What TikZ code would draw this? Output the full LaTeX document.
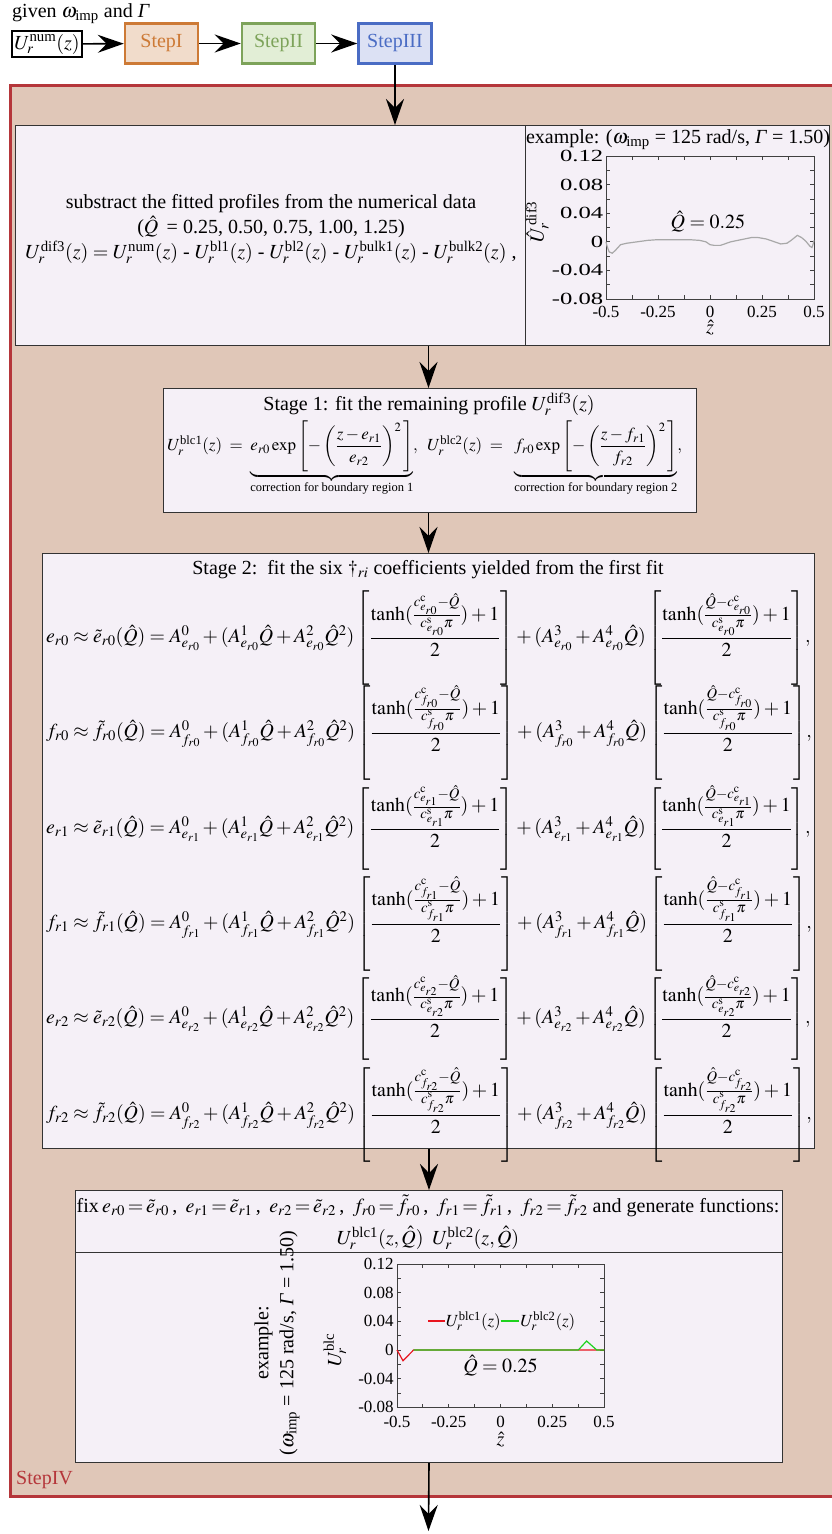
\documentclass[tikz,border=0pt]{standalone}
\usepackage{amsmath}
\usepackage{mathptmx}
\usepackage{fontspec}
\setmainfont{Liberation Serif}
\usetikzlibrary{arrows.meta,calc}
\definecolor{frameIV}{HTML}{E0C7B8}
\definecolor{redIV}{HTML}{B5363A}
\definecolor{boxbg}{HTML}{F5F0F7}
\definecolor{oI}{HTML}{CD7A36}
\definecolor{oIf}{HTML}{F1DCCB}
\definecolor{gII}{HTML}{7DA35A}
\definecolor{gIIf}{HTML}{E2EED6}
\definecolor{bIII}{HTML}{4A6CC4}
\definecolor{bIIIf}{HTML}{DCE1F4}
\definecolor{curvegray}{HTML}{A8A8A8}
\definecolor{axisgray}{HTML}{404040}
\definecolor{legred}{HTML}{E8141E}
\definecolor{leggreen}{HTML}{1ED21E}
\newcommand{\fitrow}[2]{%
 #1_{r#2}\approx\tilde{#1}_{r#2}(\hat{Q}) = A^{0}_{#1_{r#2}} + (A^{1}_{#1_{r#2}}\hat{Q}+A^{2}_{#1_{r#2}}\hat{Q}^{2})
 \left[\vcenter{\hbox{\rule{0pt}{88pt}}}\dfrac{\tanh(\frac{c^{\mathrm{c}}_{#1_{r#2}}-\hat{Q}}{c^{\mathrm{s}}_{#1_{r#2}}\pi})+1}{2}\right]
 + (A^{3}_{#1_{r#2}}+A^{4}_{#1_{r#2}}\hat{Q})
 \left[\vcenter{\hbox{\rule{0pt}{88pt}}}\dfrac{\tanh(\frac{\hat{Q}-c^{\mathrm{c}}_{#1_{r#2}}}{c^{\mathrm{s}}_{#1_{r#2}}\pi})+1}{2}\right]\!,}
\newcommand{\smallfs}{\fontsize{12.5}{14}\selectfont}
\newcommand{\teq}{\mkern2.5mu{=}\mkern2.5mu}
\newcommand{\bracelab}[1]{\makebox[0pt]{\smallfs #1}}
\tikzset{
  every node/.style={font=\fontsize{20}{25}\selectfont, inner sep=0pt},
  stepbox/.style={draw=#1, line width=2.5pt, minimum width=73pt, minimum height=40pt, text=#1},
  panel/.style={draw=black!80, line width=1pt, fill=boxbg, anchor=north west},
  arr/.style={line width=1.6pt, -{Stealth[length=26pt,width=18pt,inset=9pt]}},
  axisline/.style={draw=axisgray, line width=0.8pt},
  ticklab/.style={font=\fontsize{17}{20}\selectfont},
  rowtext/.style={anchor=west, font=\fontsize{19.8}{24}\selectfont},
}
\begin{document}
\begin{tikzpicture}[x=1pt,y=-1pt]
\useasboundingbox (0,0) rectangle (831,1534);
% header
\node[anchor=base west] (given) at (12,17) {given $\omega_{\text{imp}}$ and \textit{Γ}};
\node[draw=black, line width=1.5pt, minimum width=70pt, minimum height=26pt] (un) at (47,44) {$U_r^{\text{num}}(z)$};
\node[stepbox=oI, fill=oIf] (s1) at (161.5,43.5) {StepI};
\node[stepbox=gII, fill=gIIf] (s2) at (278.5,43.5) {StepII};
\node[stepbox=bIII, fill=bIIIf] (s3) at (395,43.5) {StepIII};
\draw[arr] (un) -- (s1);
\draw[arr] (s1) -- (s2);
\draw[arr] (s2) -- (s3);
% StepIV frame
\node[draw=redIV, line width=2.5pt, fill=frameIV, anchor=north west, minimum width=830pt, minimum height=1411pt] (s4) at (9,84) {};
\node[anchor=base west, text=redIV] (lab4) at (16,1484) {StepIV};
% box 1
\node[panel, minimum width=814pt, minimum height=220pt] (b1) at (15,125) {};
\draw[black!80, line width=1pt] ($(b1.north west)+(510,0)$) -- ($(b1.south west)+(510,0)$);
\node[align=center] (b1t) at (271,229) {substract the fitted profiles from the numerical data\\
($\hat{Q}$\ \,= 0.25, 0.50, 0.75, 1.00, 1.25)\\
$U_r^{\text{dif3}}(z) = U_r^{\text{num}}(z)$ - $U_r^{\text{bl1}}(z)$ - $U_r^{\text{bl2}}(z)$ - $U_r^{\text{bulk1}}(z)$ - $U_r^{\text{bulk2}}(z)$ ,};
\node (ex1) at (678,140) {example: ($\omega_{\text{imp}}$ = 125 rad/s, \textit{Γ} = 1.50)};
\begin{scope}[shift={(710,241.8)}, x=208pt, y=715pt]
  \draw[axisline] (-0.5,-0.08) rectangle (0.5,0.12);
  \foreach \t in {-0.375,-0.25,-0.125,0,0.125,0.25,0.375} {
    \draw[axisline] (\t,-0.08) -- ++(0,0.005);
    \draw[axisline] (\t,0.12) -- ++(0,-0.005);}
  \foreach \v in {-0.06,-0.04,-0.02,0,0.02,0.04,0.06,0.08,0.1} {
    \draw[axisline] (-0.5,\v) -- ++(0.02,0);
    \draw[axisline] (0.5,\v) -- ++(-0.02,0);}
  \foreach \v/\l in {0.12/0.12,0.08/0.08,0.04/0.04,0/0,-0.04/-0.04,-0.08/-0.08}
    \node[ticklab, anchor=east] at (-0.512,\v) {\scalebox{1.45}[1]{\l}};
  \foreach \t/\l in {-0.5/-0.5,-0.25/-0.25,0/0,0.25/0.25,0.5/0.5}
    \node[ticklab] at (\t,-0.098) {\l};
  \node at (0,-0.120) {$\hat{z}$};
  \node[rotate=90] at (-0.83,0.028) {$\hat{U}_r^{\,\text{dif3}}$};
  \node at (-0.01,0.028) {$\hat{Q} = 0.25$};
  \draw[curvegray, line width=1.2pt] plot coordinates {(-0.5,0.000) (-0.495,-0.006) (-0.485,-0.014) (-0.47,-0.016) (-0.455,-0.012) (-0.43,-0.004) (-0.40,-0.002) (-0.35,0.000) (-0.30,0.002) (-0.25,0.003) (-0.20,0.003) (-0.15,0.003) (-0.10,0.003) (-0.05,0.002) (-0.02,0.000) (0.0,-0.004) (0.02,-0.005) (0.05,-0.005) (0.08,-0.002) (0.10,0.000) (0.15,0.003) (0.20,0.006) (0.23,0.006) (0.27,0.004) (0.30,0.001) (0.34,-0.003) (0.37,-0.002) (0.39,0.002) (0.42,0.009) (0.44,0.006) (0.46,0.001) (0.48,-0.006) (0.49,-0.008) (0.495,-0.004) (0.5,0.002)};
\end{scope}
% stage 1
\node[panel, minimum width=533pt, minimum height=124pt] (st1) at (163,388) {};
\node (st1t) at (429,404) {Stage 1: fit the remaining profile $U_r^{\text{dif3}}(z)$};
\node[anchor=north west, font=\fontsize{17}{21}\selectfont] (st1e) at (167,421) {$U_r^{\text{blc1}}(z)\;=\;\underbrace{e_{r0}\exp\left[-\left(\dfrac{z-e_{r1}}{e_{r2}}\right)^{2}\,\right]}_{\bracelab{correction for boundary region 1}},\;\; U_r^{\text{blc2}}(z)\;=\;\;\underbrace{f_{r0}\exp\left[-\left(\dfrac{z-f_{r1}}{f_{r2}}\right)^{2}\,\right]}_{\bracelab{correction for boundary region 2}},$};
% stage 2
\node[panel, minimum width=772pt, minimum height=595pt] (st2) at (42,553) {};
\node (st2t) at (428,570) {Stage 2:\ \ fit the six $\dagger_{ri}$ coefficients yielded from the first fit};
\node[rowtext] (r1) at (46,638) {$\fitrow{e}{0}$};
\node[rowtext] (r2) at (46,733) {$\fitrow{f}{0}$};
\node[rowtext] (r3) at (46,829) {$\fitrow{e}{1}$};
\node[rowtext] (r4) at (46,924) {$\fitrow{f}{1}$};
\node[rowtext] (r5) at (46,1019) {$\fitrow{e}{2}$};
\node[rowtext] (r6) at (46,1115) {$\fitrow{f}{2}$};
% fix box
\node[panel, minimum width=707pt, minimum height=272pt] (fx) at (75,1190) {};
\draw[black!80, line width=1pt] ($(fx.north west)+(0,62)$) -- ($(fx.north east)+(0,62)$);
\node (fxt) at (428,1206) {fix\,$e_{r0}\teq\tilde{e}_{r0}$\,,\ \,$e_{r1}\teq\tilde{e}_{r1}$\,,\ \,$e_{r2}\teq\tilde{e}_{r2}$\,,\ \,$f_{r0}\teq\tilde{f}_{r0}$\,,\ \,$f_{r1}\teq\tilde{f}_{r1}$\,,\ \,$f_{r2}\teq\tilde{f}_{r2}$ and generate functions:};
\node (fxu) at (428,1238) {$U_r^{\text{blc1}}(z,\hat{Q})\;\;U_r^{\text{blc2}}(z,\hat{Q})$};
\node[rotate=90, align=center] (ex2) at (277,1343) {example:\\($\omega_{\text{imp}}$ = 125 rad/s, \textit{Γ} = 1.50)};
\begin{scope}[shift={(500.5,1350)}, x=207pt, y=715pt]
  \draw[axisline] (-0.5,-0.08) rectangle (0.5,0.12);
  \foreach \t in {-0.375,-0.25,-0.125,0,0.125,0.25,0.375} {
    \draw[axisline] (\t,-0.08) -- ++(0,0.005);
    \draw[axisline] (\t,0.12) -- ++(0,-0.005);}
  \foreach \v in {-0.06,-0.04,-0.02,0,0.02,0.04,0.06,0.08,0.1} {
    \draw[axisline] (-0.5,\v) -- ++(0.02,0);
    \draw[axisline] (0.5,\v) -- ++(-0.02,0);}
  \foreach \v/\l in {0.12/0.12,0.08/0.08,0.04/0.04,0/0,-0.04/-0.04,-0.08/-0.08}
    \node[ticklab, anchor=east] at (-0.515,\v) {\l};
  \foreach \t/\l in {-0.5/-0.5,-0.25/-0.25,0/0,0.25/0.25,0.5/0.5}
    \node[ticklab] at (\t,-0.1) {\l};
  \node at (0,-0.1255) {$\hat{z}$};
  \node[rotate=90] at (-0.8,0.0) {$U_r^{\text{blc}}$};
  \node at (0,-0.022) {$\hat{Q} = 0.25$};
  \draw[legred, line width=1.2pt] plot coordinates {(-0.5,0) (-0.471,-0.015) (-0.42,0) (0.5,0)};
  \draw[leggreen, line width=1.2pt] plot coordinates {(-0.42,0) (0.376,0) (0.416,0.0126) (0.465,0) (0.5,0)};
  \draw[legred, line width=2pt] (-0.35,0.0405) -- (-0.27,0.0405);
  \node[ticklab, anchor=west] at (-0.265,0.04) {$U_r^{\text{blc1}}(z)$};
  \draw[leggreen, line width=2pt] (0,0.0405) -- (0.09,0.0405);
  \node[ticklab, anchor=west] at (0.095,0.04) {$U_r^{\text{blc2}}(z)$};
\end{scope}
% connectors
\coordinate (end) at (428.5,1531);
\draw[arr] (s3.south) -- (s3.south |- b1.north);
\draw[arr] (st2.north |- b1.south) -- (st1.north -| st2.north);
\draw[arr] (st2.north |- st1.south) -- (st2.north);
\draw[arr] (fx.north |- st2.south) -- (fx.north);
\draw[arr] (fx.south) -- (end);
\end{tikzpicture}
\end{document}
